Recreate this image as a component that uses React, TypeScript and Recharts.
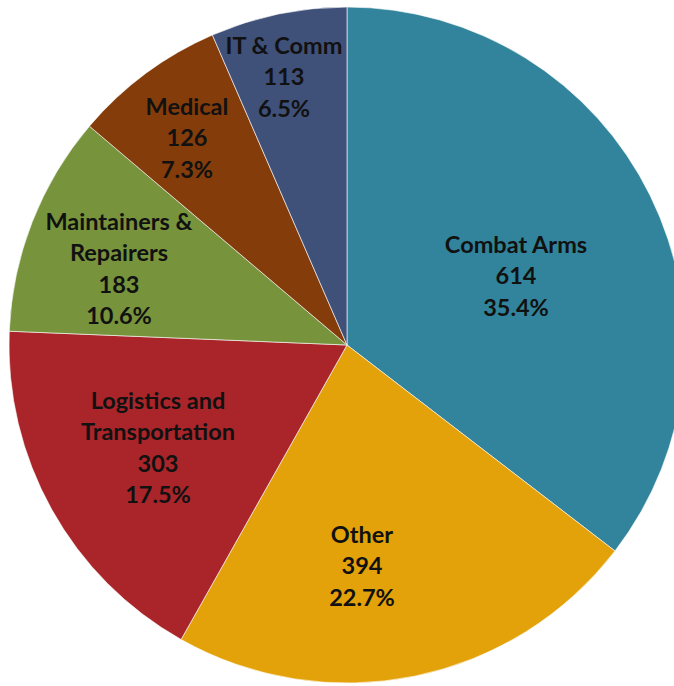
import React from "react";
import { PieChart, Pie, Cell } from "recharts";

const categories = ["Combat Arms", "Other", "Logistics and Transportation", "Maintainers & Repairers", "Medical", "IT & Comm"];
const counts = [614, 394, 303, 183, 126, 113];
const labelLines = [
  ["Combat Arms"],
  ["Other"],
  ["Logistics and", "Transportation"],
  ["Maintainers &", "Repairers"],
  ["Medical"],
  ["IT & Comm"],
];

const COLORS = ["#31849B", "#E3A20A", "#A9252A", "#77933C", "#843C0B", "#3F5079"];

// label centre offsets from the pie centre (best-fit placement like the original)
const LABEL_OFFSETS = [
  [169, -70],
  [15, 220],
  [-189, 102],
  [-228, -77],
  [-160, -208],
  [-63, -269],
];

const total = counts.reduce((a, b) => a + b, 0);
const data = categories.map((name, i) => ({ name, value: counts[i] }));

const LINE_H = 31.5;

const renderLabel = (props: any) => {
  const { cx, cy, index, value } = props;
  const lines = [...labelLines[index], String(value), `${((value / total) * 100).toFixed(1)}%`];
  const [dx, dy] = LABEL_OFFSETS[index];
  const x = cx + dx;
  const startY = cy + dy - ((lines.length - 1) * LINE_H) / 2;
  return (
    <text
      x={x}
      y={startY}
      textAnchor="middle"
      dominantBaseline="central"
      fill="#111111"
      fontFamily="Lato, 'Open Sans', sans-serif"
      fontWeight="bold"
      fontSize={23.5}
    >
      {lines.map((l, i) => (
        <tspan key={i} x={x} y={startY + i * LINE_H}>
          {l}
        </tspan>
      ))}
    </text>
  );
};

const App: React.FC = () => {
  return (
    <div style={{ position: "absolute", left: 0, top: 0 }}>
      <PieChart width={674} height={686} margin={{ top: 0, right: 0, bottom: 0, left: 0 }}>
        <Pie
          data={data}
          dataKey="value"
          cx={347}
          cy={345}
          outerRadius={338}
          startAngle={90}
          endAngle={-270}
          stroke="#ffffff"
          strokeWidth={0.6}
          labelLine={false}
          label={renderLabel}
          isAnimationActive={false}
        >
          {data.map((entry, index) => (
            <Cell key={`cell-${index}`} fill={COLORS[index % COLORS.length]} />
          ))}
        </Pie>
      </PieChart>
    </div>
  );
};

export default App;
